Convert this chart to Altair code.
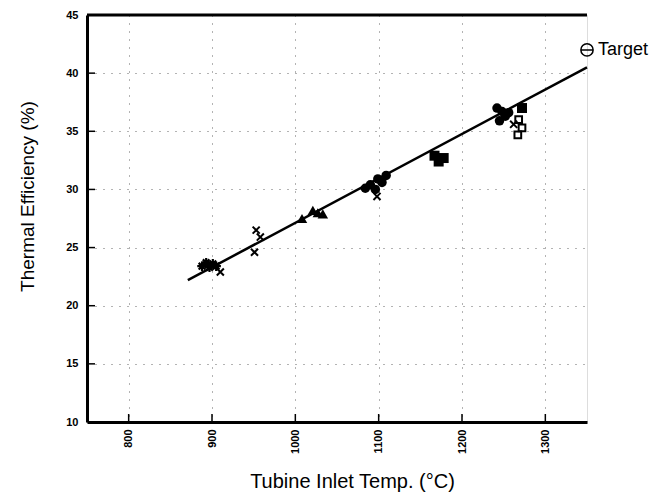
import altair as alt
import pandas as pd

# ---- data ----
star_t = [888, 893, 897, 901, 905]
star_e = [23.4, 23.7, 23.3, 23.6, 23.4]

xm_t = [910, 951, 953, 958, 1098, 1262]
xm_e = [22.9, 24.6, 26.5, 25.9, 29.4, 35.6]

tri_t = [1008, 1021, 1027, 1033]
tri_e = [27.5, 28.2, 28.0, 27.9]

circ_t = [1084, 1090, 1096, 1099, 1104, 1109, 1242, 1248, 1252, 1256, 1245]
circ_e = [30.1, 30.4, 30.0, 30.9, 30.6, 31.2, 37.0, 36.7, 36.3, 36.6, 35.9]

sq_t = [1167, 1172, 1178, 1272]
sq_e = [32.9, 32.4, 32.7, 37.0]

hsq_t = [1268, 1272, 1267]
hsq_e = [36.0, 35.3, 34.7]

fit_t = [871, 1350]
fit_e = [22.2, 40.5]

target_t = [1350]
target_e = [42.0]
target_lbl = ["Target"]

x_ticks = [800, 900, 1000, 1100, 1200, 1300]
y_ticks = [10, 15, 20, 25, 30, 35, 40, 45]

FONT = "Liberation Sans"

xs = alt.Scale(domain=[750, 1350], nice=False, zero=False)
ys = alt.Scale(domain=[10, 45], nice=False, zero=False)

x_axis = alt.Axis(
    values=x_ticks, format="d", labelAngle=270, labelAlign="right", labelBaseline="middle",
    labelFont=FONT, labelFontSize=11, labelFontWeight="bold", labelColor="black",
    labelPadding=7, ticks=False, grid=True, gridDash=[1, 7], gridColor="black",
    gridOpacity=0.6, domainColor="black", domainWidth=3,
    title="Tubine Inlet Temp. (°C)", titleFont=FONT, titleFontSize=20,
    titleFontWeight="normal", titleColor="black", titleX=265, titleY=59,
    titleBaseline="middle", labelOverlap=False,
)
y_axis = alt.Axis(
    values=y_ticks, format="d", labelFont=FONT, labelFontSize=11, labelFontWeight="bold",
    labelColor="black", labelPadding=9, ticks=False, grid=True, gridDash=[1, 7],
    gridColor="black", gridOpacity=0.6, domainColor="black", domainWidth=3,
    title="Thermal Efficiency (%)", titleFont=FONT, titleFontSize=19,
    titleFontWeight="normal", titleColor="black", titleX=-60, titleY=181,
    titleBaseline="middle", labelOverlap=False,
)


def df(t, e):
    return pd.DataFrame({"t": t, "e": e})


def pts(t, e, shape, filled, size, sw=1.5):
    return alt.Chart(df(t, e)).mark_point(
        shape=shape, filled=filled, size=size, color="black",
        strokeWidth=sw, opacity=1,
    ).encode(x=alt.X("t:Q", scale=xs), y=alt.Y("e:Q", scale=ys))


STAR = "M-1,0L1,0M0,-1L0,1M-0.7,-0.7L0.7,0.7M-0.7,0.7L0.7,-0.7"
XMARK = "M-1,-1L1,1M-1,1L1,-1"
THETA = "M-1,0A1,1,0,1,1,1,0A1,1,0,1,1,-1,0ZM-1,0L1,0"

grid_layer = alt.Chart(pd.DataFrame({"t": x_ticks})).mark_point(opacity=0).encode(
    x=alt.X("t:Q", scale=xs, axis=x_axis),
    y=alt.Y("e:Q", scale=ys, axis=y_axis),
).transform_calculate(e="25")

fit = alt.Chart(df(fit_t, fit_e)).mark_line(color="black", strokeWidth=2.5).encode(
    x=alt.X("t:Q", scale=xs), y=alt.Y("e:Q", scale=ys)
)

ytick = alt.Chart(pd.DataFrame({"e": y_ticks[1:-1]})).mark_rule(
    color="black", strokeWidth=1.5
).encode(y=alt.Y("e:Q", scale=ys), x=alt.value(0), x2=alt.value(8))

xtick = alt.Chart(pd.DataFrame({"t": x_ticks})).mark_rule(
    color="black", strokeWidth=1.5
).encode(x=alt.X("t:Q", scale=xs), y=alt.value(407), y2=alt.value(399))

top_border = alt.Chart(pd.DataFrame({"t": [750]})).mark_rule(
    color="black", strokeWidth=3
).encode(x=alt.value(0), x2=alt.value(500), y=alt.value(0))

target = alt.Chart(df(target_t, target_e)).mark_point(
    shape=THETA, filled=False, size=150, color="black", strokeWidth=1.5, opacity=1
).encode(x=alt.X("t:Q", scale=xs), y=alt.Y("e:Q", scale=ys))

target_text = alt.Chart(
    pd.DataFrame({"t": target_t, "e": target_e, "l": target_lbl})
).mark_text(
    align="left", baseline="middle", dx=11, font=FONT, fontSize=18, color="black"
).encode(x=alt.X("t:Q", scale=xs), y=alt.Y("e:Q", scale=ys), text="l:N")

chart = alt.layer(
    grid_layer,
    ytick,
    xtick,
    top_border,
    fit,
    pts(star_t, star_e, STAR, False, 90, 2.2),
    pts(xm_t, xm_e, XMARK, False, 50, 2),
    pts(tri_t, tri_e, "triangle-up", True, 110),
    pts(circ_t, circ_e, "circle", True, 90),
    pts(sq_t, sq_e, "square", True, 100),
    pts(hsq_t, hsq_e, "square", False, 45, 2),
    target,
    target_text,
).properties(
    width=500, height=407,
    padding={"left": 87, "top": 15, "right": 84, "bottom": 74},
    autosize=alt.AutoSizeParams(type="none"),
).configure_view(
    stroke="black", strokeWidth=2.5
).configure(background="white")

chart.save("out.html", embed_options={"renderer": "svg", "actions": False})
